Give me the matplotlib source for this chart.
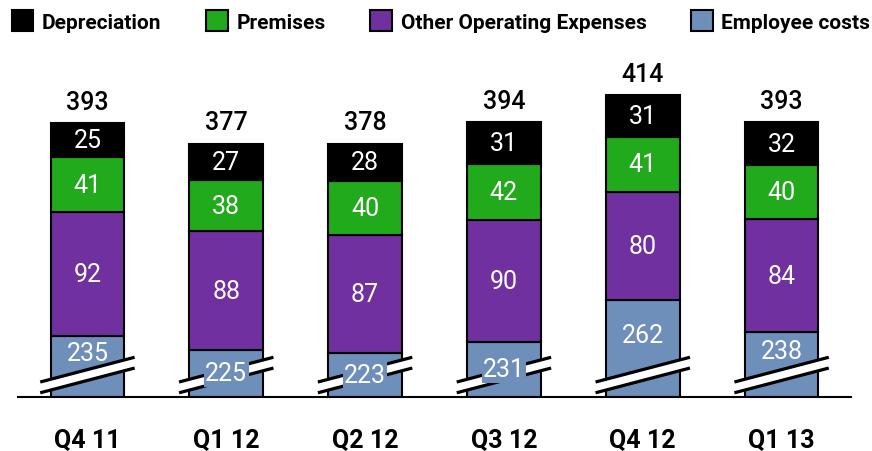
import matplotlib
matplotlib.use("Agg")
import matplotlib.pyplot as plt
from matplotlib.patches import Patch
import numpy as np

categories = ["Q4 11", "Q1 12", "Q2 12", "Q3 12", "Q4 12", "Q1 13"]
employee = [235, 225, 223, 231, 262, 238]
other_opex = [92, 88, 87, 90, 80, 84]
premises = [41, 38, 40, 42, 41, 40]
depreciation = [25, 27, 28, 31, 31, 32]
totals = [393, 377, 378, 394, 414, 393]

axis_break = 190  # employee costs are drawn from this value (broken axis)

c_emp = "#6F8FBB"
c_opex = "#7030A0"
c_prem = "#21AA1B"
c_dep = "#000000"

plt.rcParams['font.family'] = ['Roboto', 'DejaVu Sans']

fig = plt.figure(figsize=(8.72, 4.52), dpi=100)
ax = fig.add_axes([18/872, 54/452, (851-18)/872, (398-50)/452])

x = np.arange(len(categories))
w = 0.53
emp_vis = np.array(employee) - axis_break
ax.bar(x, emp_vis, w, color=c_emp, edgecolor="black", linewidth=1.5, zorder=2)
bot = emp_vis.copy()
ax.bar(x, other_opex, w, bottom=bot, color=c_opex, edgecolor="black", linewidth=1.5, zorder=2)
bot2 = bot + np.array(other_opex)
ax.bar(x, premises, w, bottom=bot2, color=c_prem, edgecolor="black", linewidth=1.5, zorder=2)
bot3 = bot2 + np.array(premises)
ax.bar(x, depreciation, w, bottom=bot3, color=c_dep, edgecolor="black", linewidth=1.5, zorder=2)
top = bot3 + np.array(depreciation)

# axis-break marks
yc, gap, slope, half = 16.3, 8.0, 27.0, 0.34
for xi in x:
    xs = np.array([xi - half, xi + half])
    yu = yc + gap/2 + slope*(xs - xi)
    yl = yc - gap/2 + slope*(xs - xi)
    ax.fill_between(xs, yl, yu, color="white", zorder=3, linewidth=0)
    ax.plot(xs, yu, color="black", lw=2.3, zorder=4, solid_capstyle="butt")
    ax.plot(xs, yl, color="black", lw=2.3, zorder=4, solid_capstyle="butt")

fs_in = 18
for i in range(len(x)):
    h = emp_vis[i]
    if h >= 43:
        ax.text(x[i], (20 + h)/2, str(employee[i]), ha="center", va="center",
                color="white", fontsize=fs_in, zorder=5)
    else:
        ax.text(x[i], h/2, str(employee[i]), ha="center", va="center",
                color="white", fontsize=fs_in, zorder=5,
                bbox=dict(boxstyle="square,pad=0.05", fc=c_emp, ec="none"))
    ax.text(x[i], bot[i] + other_opex[i]/2, str(other_opex[i]), ha="center", va="center",
            color="white", fontsize=fs_in, zorder=5)
    ax.text(x[i], bot2[i] + premises[i]/2, str(premises[i]), ha="center", va="center",
            color="white", fontsize=fs_in, zorder=5)
    ax.text(x[i], bot3[i] + depreciation[i]/2, str(depreciation[i]), ha="center", va="center",
            color="white", fontsize=fs_in, zorder=5)
    ax.text(x[i], top[i] + 7, str(totals[i]), ha="center", va="bottom",
            color="black", fontsize=fs_in, fontweight="medium", zorder=5)

ax.set_xlim(-0.5, 5.5)
ax.set_ylim(0, 348/1.348)
for s in ["top", "right", "left"]:
    ax.spines[s].set_visible(False)
ax.spines["bottom"].set_linewidth(1.5)
ax.spines["bottom"].set_zorder(6)
ax.set_yticks([])
ax.set_xticks(x)
ax.set_xticklabels(categories, fontsize=18, fontweight="bold")
ax.tick_params(axis="x", length=0, pad=22)

handles = [Patch(facecolor=c_dep, edgecolor="black", linewidth=1.5, label="Depreciation"),
           Patch(facecolor=c_prem, edgecolor="black", linewidth=1.5, label="Premises"),
           Patch(facecolor=c_opex, edgecolor="black", linewidth=1.5, label="Other Operating Expenses"),
           Patch(facecolor=c_emp, edgecolor="black", linewidth=1.5, label="Employee costs")]
fig.legend(handles=handles, loc="center", bbox_to_anchor=(441/872, 1 - 22/452), ncol=4,
           frameon=False, prop=dict(size=15, weight="bold"), handlelength=1.05,
           handleheight=1.15, handletextpad=0.4, columnspacing=2.15, borderaxespad=0.0,
           borderpad=0.0)

fig.savefig("out.png", dpi=100)
